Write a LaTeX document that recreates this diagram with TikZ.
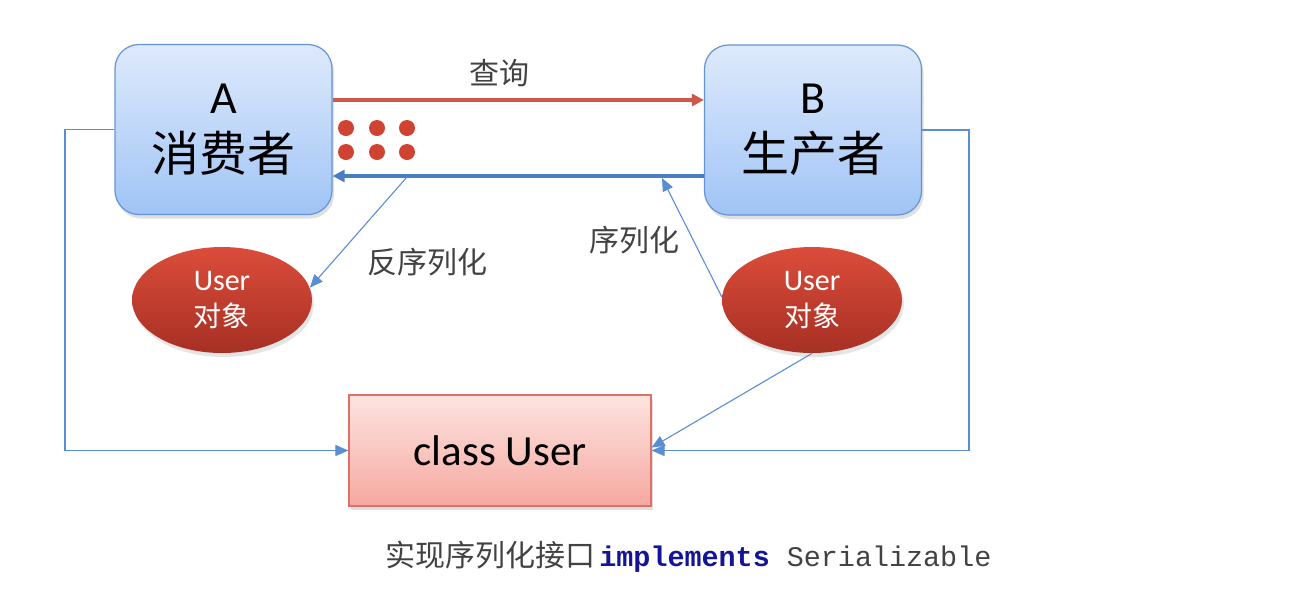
\documentclass[tikz,border=0pt]{standalone}
\usepackage{fontspec}
\setmainfont{Carlito}
\newfontfamily\cjk{Noto Sans CJK SC}
\newfontfamily\monofnt{Liberation Mono}
\usetikzlibrary{arrows.meta,shadows,calc,shapes.geometric}
\definecolor{boxborder}{RGB}{100,148,214}
\definecolor{boxtop}{RGB}{222,234,252}
\definecolor{boxbot}{RGB}{160,196,246}
\definecolor{redarrow}{RGB}{207,88,74}
\definecolor{bluearrow}{RGB}{74,125,196}
\definecolor{thinblue}{RGB}{90,142,212}
\definecolor{dotred}{RGB}{208,66,50}
\definecolor{elltop}{RGB}{220,76,58}
\definecolor{ellbot}{RGB}{166,48,36}
\definecolor{cltop}{RGB}{253,228,224}
\definecolor{clbot}{RGB}{246,168,160}
\definecolor{clborder}{RGB}{222,112,102}
\definecolor{navy}{RGB}{20,20,150}
\definecolor{graytext}{RGB}{66,66,66}
\tikzset{
  rolebox/.style={draw=boxborder, line width=0.6pt, rounded corners=12pt,
    top color=boxtop, bottom color=boxbot, minimum width=108.5pt, minimum height=85pt,
    align=center, font=\fontsize{23}{29}\selectfont,
    drop shadow={opacity=0.25, shadow xshift=1pt, shadow yshift=-2pt}},
  userobj/.style={ellipse, draw=none, top color=elltop, bottom color=ellbot,
    minimum width=90pt, minimum height=53pt, inner sep=0pt, align=center,
    text=white, font=\fontsize{15}{17}\selectfont,
    drop shadow={opacity=0.2, shadow xshift=1pt, shadow yshift=-2pt}},
  classbox/.style={draw=clborder, line width=0.6pt, top color=cltop, bottom color=clbot,
    minimum width=151pt, minimum height=55.5pt, font=\fontsize{21.5}{26}\selectfont,
    drop shadow={opacity=0.25, shadow xshift=1pt, shadow yshift=-2pt}},
  lbl/.style={text=graytext, font=\cjk\fontsize{15}{18}\selectfont},
  thinarrow/.style={draw=thinblue, line width=0.55pt, -{Triangle[length=6.5pt,width=5.5pt]}},
  reddot/.style={circle, fill=dotred, minimum size=8pt, inner sep=0pt},
}
\begin{document}
\begin{tikzpicture}[x=0.5pt,y=-0.5pt]
\useasboundingbox (0,0) rectangle (1297,591);
\fill[white] (0,0) rectangle (1297,591);
% main boxes
\node[rolebox] (A) at (223.5,129.5) {A\\{\cjk\fontsize{24}{29}\selectfont 消费者}};
\node[rolebox] (B) at (813,130) {B\\{\cjk\fontsize{24}{29}\selectfont 生产者}};
% ellipses
\node[userobj] (UL) at (222,300) {User\\[1pt]{\cjk\fontsize{14}{17}\selectfont 对象}};
\node[userobj] (UR) at (812,300) {User\\[1pt]{\cjk\fontsize{14}{17}\selectfont 对象}};
% class box
\node[classbox] (CU) at (500,450.5) {class User};
% query arrow
\draw[redarrow, line width=1.6pt, -{Triangle[length=6pt,width=6pt]}]
  ($(A.east)+(0,-29.5)$) -- ($(B.west)+(0,-30)$);
\node[lbl] (q) at (499,73) {查询};
% return arrow
\draw[bluearrow, line width=1.6pt, -{Triangle[length=6pt,width=6pt]}]
  ($(B.west)+(0,46)$) -- ($(A.east)+(0,46.5)$);
% dots
\foreach \i/\x in {1/346,2/377,3/407}{
  \node[reddot] (dt\i) at (\x,128) {};
  \node[reddot] (db\i) at (\x,152) {};
}
% deserialize / serialize
\coordinate (d1) at (407,177);
\coordinate (s1) at (662,178);
\draw[thinarrow] (d1) -- (UL.8);
\node[lbl] (deser) at (427,262) {反序列化};
\draw[thinarrow] (UR.178) -- (s1);
\node[lbl] (ser) at (634,240) {序列化};
% connectors to class User
\draw[thinarrow] (A.west) -- (65,129.5) |- (CU.west);
\draw[thinarrow] (B.east) -- (969,130) |- (CU.east);
\draw[thinarrow] (UR.south) -- ($(CU.east)+(0,-3)$);
% bottom text
\node[anchor=base west, inner sep=0pt] (impl) at (385,566)
  {{\cjk\fontsize{15}{18}\selectfont\color{graytext}实现序列化接口}\hspace{2pt}{\monofnt\fontsize{14.2}{18}\selectfont{\bfseries\color{navy}implements} {\color{graytext}Serializable}}};
\end{tikzpicture}
\end{document}
